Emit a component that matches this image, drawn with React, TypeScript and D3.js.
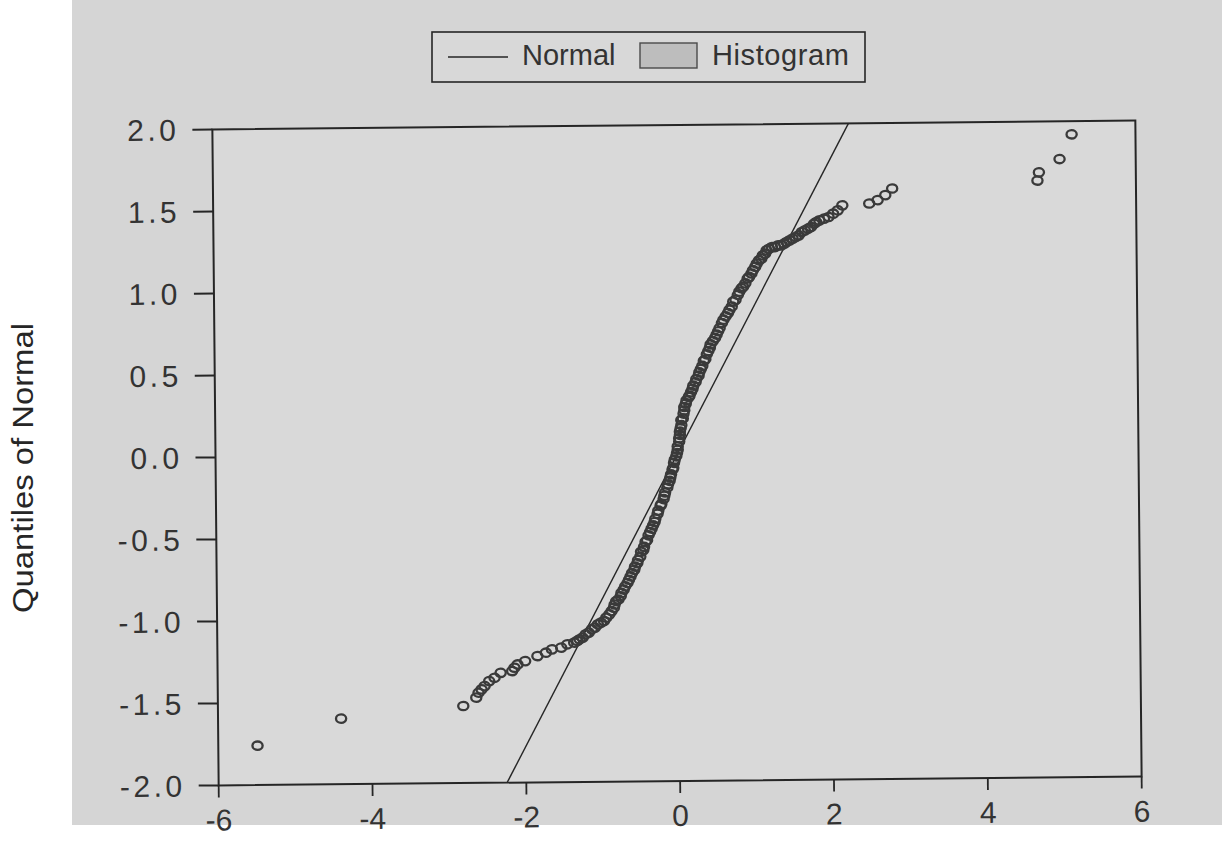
import React from 'react';
import * as d3 from 'd3';

const xTicks = [-6, -4, -2, 0, 2, 4, 6];
const yTicks = [2.0, 1.5, 1.0, 0.5, 0.0, -0.5, -1.0, -1.5, -2.0];

// Sample quantiles (x), sorted
const sampleQuantiles = [
  -5.49, -4.40, -2.81, -2.64, -2.61, -2.57, -2.53, -2.47, -2.40, -2.32, -2.17, -2.14, -2.10, -2.00, -1.84, -1.73, -1.65, -1.53, -1.45,
  -1.36, -1.32, -1.29, -1.25, -1.21, -1.17, -1.13, -1.09, -1.05, -1.01, -0.97, -0.94, -0.90, -0.87, -0.84, -0.83, -0.81, -0.78, -0.75, -0.74,
  -0.71, -0.69, -0.66, -0.64, -0.62, -0.60, -0.57, -0.56, -0.53, -0.52, -0.49, -0.48, -0.45, -0.44, -0.42, -0.40, -0.38, -0.36, -0.34, -0.32,
  -0.30, -0.29, -0.26, -0.25, -0.22, -0.21, -0.18, -0.17, -0.16, -0.13, -0.12, -0.10, -0.09, -0.08, -0.06, -0.05, -0.04, -0.03, -0.01, 0.00,
  0.01, 0.01, 0.03, 0.03, 0.04, 0.04, 0.05, 0.06, 0.06, 0.08, 0.09, 0.10, 0.10, 0.12, 0.13, 0.16, 0.17, 0.19, 0.21, 0.22,
  0.25, 0.26, 0.29, 0.30, 0.32, 0.34, 0.36, 0.38, 0.40, 0.42, 0.44, 0.45, 0.48, 0.51, 0.53, 0.55, 0.57, 0.60, 0.62, 0.65,
  0.68, 0.70, 0.73, 0.75, 0.78, 0.81, 0.83, 0.86, 0.88, 0.91, 0.94, 0.96, 0.99, 1.01, 1.04, 1.06, 1.09, 1.12, 1.14, 1.17,
  1.19, 1.22, 1.26, 1.30, 1.34, 1.38, 1.42, 1.45, 1.49, 1.53, 1.57, 1.61, 1.65, 1.69, 1.73, 1.77, 1.81, 1.84, 1.88, 1.94,
  2.00, 2.06, 2.12, 2.18,
  2.53, 2.64, 2.74, 2.83,
  4.72, 4.74, 5.01, 5.17,
];

// Quantiles of Normal (y), same order
const normalQuantiles = [
  -1.76, -1.60, -1.53, -1.48, -1.45, -1.43, -1.41, -1.38, -1.36, -1.33, -1.32, -1.30, -1.28, -1.26, -1.23, -1.21, -1.19, -1.18, -1.16,
  -1.15, -1.14, -1.13, -1.12, -1.10, -1.09, -1.07, -1.06, -1.04, -1.03, -1.02, -1.00, -0.98, -0.96, -0.94, -0.92, -0.90, -0.89, -0.87, -0.85,
  -0.83, -0.81, -0.79, -0.77, -0.75, -0.73, -0.71, -0.69, -0.67, -0.65, -0.63, -0.60, -0.59, -0.57, -0.54, -0.53, -0.50, -0.48, -0.46, -0.44,
  -0.42, -0.40, -0.37, -0.35, -0.32, -0.31, -0.28, -0.26, -0.24, -0.21, -0.19, -0.17, -0.15, -0.13, -0.10, -0.09, -0.06, -0.04, -0.02, 0.00,
  0.02, 0.04, 0.07, 0.09, 0.11, 0.13, 0.15, 0.17, 0.20, 0.21, 0.24, 0.26, 0.28, 0.30, 0.32, 0.34, 0.35, 0.37, 0.39, 0.41,
  0.43, 0.45, 0.47, 0.49, 0.51, 0.53, 0.56, 0.57, 0.60, 0.62, 0.64, 0.66, 0.68, 0.70, 0.72, 0.74, 0.76, 0.79, 0.81, 0.83,
  0.85, 0.87, 0.89, 0.92, 0.93, 0.96, 0.98, 1.00, 1.01, 1.03, 1.06, 1.07, 1.09, 1.11, 1.13, 1.15, 1.17, 1.18, 1.20, 1.21,
  1.23, 1.24, 1.25, 1.25, 1.26, 1.26, 1.27, 1.28, 1.29, 1.30, 1.31, 1.32, 1.34, 1.35, 1.36, 1.37, 1.39, 1.40, 1.41, 1.42,
  1.43, 1.45, 1.47, 1.50,
  1.51, 1.53, 1.56, 1.60,
  1.64, 1.69, 1.77, 1.92,
];

// Theoretical normal line: sampleQuantile = mean + sd * normalQuantile
const normalMean = 0.01;
const normalSd = 1.13;

const legendLabels = ['Normal', 'Histogram'];
const yAxisTitle = 'Quantiles of Normal';

const FONT = '"Liberation Sans", Arial, Helvetica, sans-serif';
const INK = '#262626';

export default function App() {
  const W = 1222, H = 841;
  const L = 215.5, R = 1138.5, T = 125, B = 781;
  const cx = (L + R) / 2, cy = (T + B) / 2;

  const x = d3.scaleLinear().domain([-6, 6]).range([L, R]);
  const y = d3.scaleLinear().domain([-2, 2]).range([B, T]);

  const lineData: [number, number][] = [-2, 2].map((q) => [normalMean + normalSd * q, q]);
  const linePath = d3.line<[number, number]>().x((d) => x(d[0])).y((d) => y(d[1]))(lineData) || '';

  const pts = sampleQuantiles.map((v, i) => [v, normalQuantiles[i]] as [number, number]);
  const fmt = (t: number) => t.toFixed(1);

  return (
    <svg width={W} height={H} style={{ position: 'absolute', left: 0, top: 0, display: 'block' }} fontFamily={FONT}>
      <rect x={0} y={0} width={W} height={H} fill="#ffffff" />
      <rect x={72} y={0} width={W - 72} height={825} fill="#d5d5d5" />

      {/* Legend */}
      <g>
        <rect x={432} y={32} width={433} height={50} fill="#d8d8d8" stroke={INK} strokeWidth={1.6} />
        <line x1={448} x2={508} y1={57} y2={57} stroke={INK} strokeWidth={1.6} />
        <text x={522} y={65} fontSize={29} fill="#333">{legendLabels[0]}</text>
        <rect x={640} y={43} width={57} height={25} fill="#bdbdbd" stroke="#4a4a4a" strokeWidth={1.4} />
        <text x={712} y={65} fontSize={29} fill="#333" letterSpacing={0.6}>{legendLabels[1]}</text>
      </g>

      {/* Y axis title */}
      <text
        transform={`translate(33, 468) rotate(-90)`}
        textAnchor="middle"
        fontSize={30}
        fill={INK}
        textLength={290}
        lengthAdjust="spacingAndGlyphs"
      >
        {yAxisTitle}
      </text>

      <g transform={`rotate(-0.55, ${cx}, ${cy})`}>
        <rect x={L} y={T} width={R - L} height={B - T} fill="#d9d9d9" />
        <defs>
          <clipPath id="plotClip">
            <rect x={L} y={T} width={R - L} height={B - T} />
          </clipPath>
        </defs>

        {/* normal line */}
        <path d={linePath} stroke={INK} strokeWidth={1.4} fill="none" clipPath="url(#plotClip)" />

        {/* points */}
        <g fill="none" stroke="#3a3a3a" strokeWidth={2.3}>
          {pts.map((d, i) => (
            <ellipse key={i} cx={x(d[0])} cy={y(d[1])} rx={5.1} ry={4.2} />
          ))}
        </g>

        {/* frame */}
        <rect x={L} y={T} width={R - L} height={B - T} fill="none" stroke={INK} strokeWidth={2} />

        {/* y ticks */}
        {yTicks.map((t) => (
          <g key={'y' + t}>
            <line x1={L - 20} x2={L} y1={y(t)} y2={y(t)} stroke={INK} strokeWidth={2} />
            <text x={L - 33} y={y(t)} dy="0.36em" textAnchor="end" fontSize={30} fill="#333" letterSpacing={3.5}>
              {fmt(t)}
            </text>
          </g>
        ))}

        {/* x ticks */}
        {xTicks.map((t) => (
          <g key={'x' + t}>
            <line x1={x(t)} x2={x(t)} y1={B} y2={B + 12} stroke={INK} strokeWidth={1.8} />
            <text x={x(t)} y={B + 45} textAnchor="middle" fontSize={30} fill="#333">
              {String(t)}
            </text>
          </g>
        ))}
      </g>
    </svg>
  );
}
